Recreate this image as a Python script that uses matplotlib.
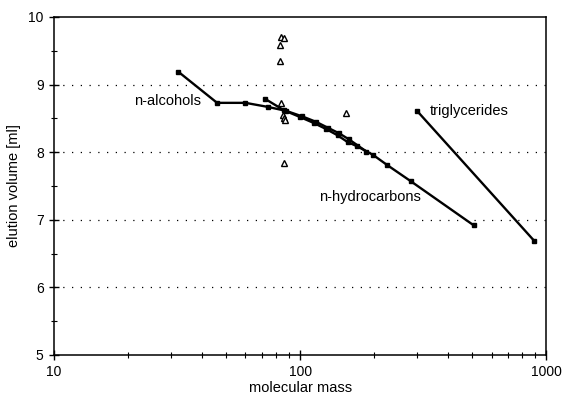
import matplotlib
matplotlib.use('Agg')
import matplotlib.pyplot as plt
from matplotlib.ticker import FixedLocator, NullFormatter

plt.rcParams['font.family'] = ['Liberation Sans', 'DejaVu Sans']

# n-alcohols (molecular mass, elution volume)
alc_mass = [32, 46, 60, 74, 88, 102, 116, 130, 144, 158, 186]
alc_vol = [9.19, 8.73, 8.73, 8.67, 8.61, 8.53, 8.45, 8.36, 8.28, 8.19, 8.01]

# n-hydrocarbons
hc_mass = [72, 86, 100, 114, 128, 142, 156, 170, 198, 226, 282, 507]
hc_vol = [8.79, 8.62, 8.52, 8.43, 8.34, 8.25, 8.15, 8.09, 7.96, 7.81, 7.57, 6.92]

# triglycerides
tg_mass = [299, 894]
tg_vol = [8.61, 6.69]

# other compounds (open triangles)
oth_mass = [84, 86, 83, 82.6, 83.5, 85, 86, 87, 85.7, 153]
oth_vol = [9.70, 9.69, 9.59, 9.35, 8.73, 8.55, 8.50, 8.48, 7.84, 8.58]

fig = plt.figure(figsize=(5.63, 4.0), dpi=100)
ax = fig.add_axes([0.096, 0.1125, 0.874, 0.845])

line_kw = dict(color='black', lw=1.7, marker='s', markersize=2.2)
ax.plot(alc_mass, alc_vol, **line_kw)
ax.plot(hc_mass, hc_vol, **line_kw)
ax.plot(tg_mass, tg_vol, **line_kw)
ax.plot(oth_mass, oth_vol, linestyle='none', marker='^', markersize=4.2,
        markerfacecolor='white', markeredgecolor='black', markeredgewidth=1)

ax.set_xscale('log')
ax.set_xlim(10, 1000)
ax.set_ylim(5, 10)

# horizontal dotted gridlines
for yv in [6, 7, 8, 9]:
    ax.axhline(yv, color='black', lw=0.9, linestyle=(0, (1, 6)), zorder=0)

ax.set_yticks([5, 6, 7, 8, 9, 10])
ax.yaxis.set_minor_locator(FixedLocator([5.5, 6.5, 7.5, 8.5, 9.5]))
ax.set_xticks([10, 100, 1000])
ax.set_xticklabels(['10', '100', '1000'])
ax.xaxis.set_minor_locator(FixedLocator([20, 30, 40, 50, 60, 70, 80, 90,
                                         200, 300, 400, 500, 600, 700, 800, 900]))
ax.xaxis.set_minor_formatter(NullFormatter())
ax.tick_params(which='major', direction='inout', length=7, width=1,
               labelsize=10, pad=4)
ax.tick_params(which='minor', direction='inout', length=5, width=0.8)
ax.tick_params(axis='y', which='both', right=False)
ax.tick_params(axis='x', which='both', top=False)

for sp in ax.spines.values():
    sp.set_linewidth(1.1)

ax.set_xlabel('molecular mass', fontsize=10.5, labelpad=1)
ax.set_ylabel('elution volume [ml]', fontsize=10.5, labelpad=5)

ax.text(21.2, 8.76, 'n-alcohols', fontsize=10.5, va='center', ha='left')
ax.text(119, 7.34, 'n-hydrocarbons', fontsize=10.5, va='center', ha='left')
ax.text(337, 8.61, 'triglycerides', fontsize=10.5, va='center', ha='left')

plt.savefig('out.png', dpi=100)
